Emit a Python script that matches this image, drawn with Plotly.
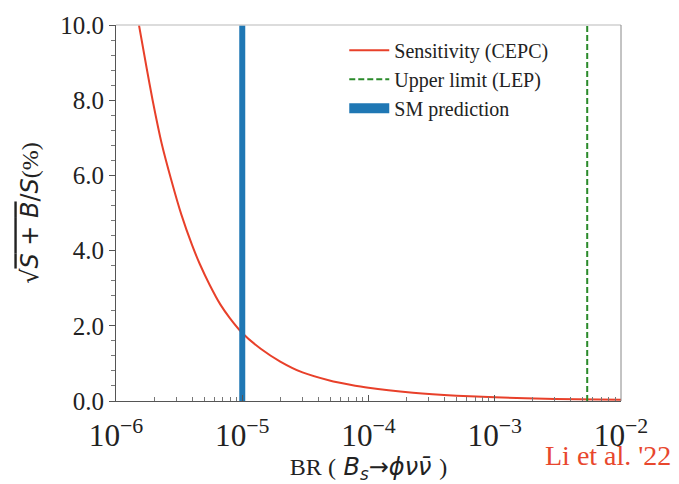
import plotly.graph_objects as go

# ---- data ----
br = [1.52e-6, 1.75e-6, 1.95e-6, 2.3e-6, 2.73e-6, 3.3e-6, 4.0e-6, 4.6e-6,
      5.5e-6, 6.7e-6, 8e-6, 1e-5, 1.4e-5, 2e-5, 3e-5, 5e-5, 7e-5, 1e-4,
      2.25e-4, 5e-4, 1e-3, 3e-3, 1e-2]
sensitivity = [10.0, 8.85, 8.0, 6.85, 5.9, 4.95, 4.15, 3.65,
               3.1, 2.57, 2.2, 1.81, 1.39, 1.05, 0.76, 0.54, 0.44, 0.35,
               0.22, 0.14, 0.097, 0.055, 0.03]
sm_prediction = 1.0e-5
lep_upper_limit = 5.4e-3
y_range = [0.0, 10.0]
x_range_exp = [-6, -2]

RED = "#e8402a"
GREEN = "#2a8a2a"
BLUE = "#1f77b4"
SERIF = "Liberation Serif"
SANS = "DejaVu Sans"

fig = go.Figure()

fig.add_trace(go.Scatter(
    x=br, y=sensitivity, mode="lines", name="Sensitivity (CEPC)",
    line=dict(color=RED, width=2, shape="spline", smoothing=0.6)))

fig.add_trace(go.Scatter(
    x=[lep_upper_limit, lep_upper_limit], y=y_range, mode="lines",
    name="Upper limit (LEP)",
    line=dict(color=GREEN, width=2, dash="6px,3px")))

fig.add_trace(go.Scatter(
    x=[sm_prediction, sm_prediction], y=y_range, mode="lines",
    showlegend=False, line=dict(color=BLUE, width=6)))

# legend-only entry for the SM band
fig.add_trace(go.Scatter(
    x=[None], y=[None], mode="lines", name="SM prediction",
    line=dict(color=BLUE, width=14)))

fig.update_layout(
    width=679, height=484,
    margin=dict(l=116, r=58, t=23, b=72),
    paper_bgcolor="white", plot_bgcolor="white",
    showlegend=True,
    legend=dict(x=0.452, y=0.985, xanchor="left", yanchor="top",
                bgcolor="rgba(0,0,0,0)",
                font=dict(family=SERIF, size=20, color="#222"),
                itemwidth=40, tracegroupgap=0),
)

fig.update_xaxes(
    type="log", range=x_range_exp, dtick=1, exponentformat="power",
    showgrid=False, zeroline=False,
    showline=True, linecolor="#555", linewidth=1,
    ticks="inside", ticklen=6, tickcolor="#555",
    minor=dict(ticks="inside", ticklen=4, tickcolor="#777", dtick="D1", showgrid=False),
    tickfont=dict(family=SERIF, size=25, color="#222"),
    ticklabelstandoff=8,
    title=dict(
        text=f'<span style="font-family:{SERIF}">BR (</span> <i>B<sub>s</sub></i>→<i>ϕνν̄</i> <span style="font-family:{SERIF}">)</span>',
        font=dict(family=SANS, size=24, color="#222"), standoff=2),
)

fig.update_yaxes(
    range=y_range, dtick=2, tickformat=".1f",
    showgrid=False, zeroline=False,
    showline=True, linecolor="#555", linewidth=1,
    ticks="outside", ticklen=6, tickcolor="#555",
    minor=dict(ticks="outside", ticklen=4, tickcolor="#777", dtick=0.4, showgrid=False),
    tickfont=dict(family=SERIF, size=25, color="#222"),
    title=dict(
        text=f'√<span style="text-decoration:overline"><i>S</i> + <i>B</i></span>/<i>S</i><span style="font-family:{SERIF}">(%)</span>',
        font=dict(family=SANS, size=24, color="#222"), standoff=14),
)

# top (light) and right (grey) frame lines
fig.add_shape(type="line", xref="paper", yref="paper", x0=0, x1=1, y0=1, y1=1,
              line=dict(color="#d0d0d0", width=1.5))
fig.add_shape(type="line", xref="paper", yref="paper", x0=1, x1=1, y0=0, y1=1,
              line=dict(color="#888", width=1))

fig.add_annotation(text="Li et al. '22", xref="paper", yref="paper",
                   x=(543 - 116) / 505, y=-(468 - 412) / 389,
                   xanchor="left", yanchor="middle", showarrow=False,
                   font=dict(family=SERIF, size=28, color="#e8472d"))

fig.write_html("out.html")
